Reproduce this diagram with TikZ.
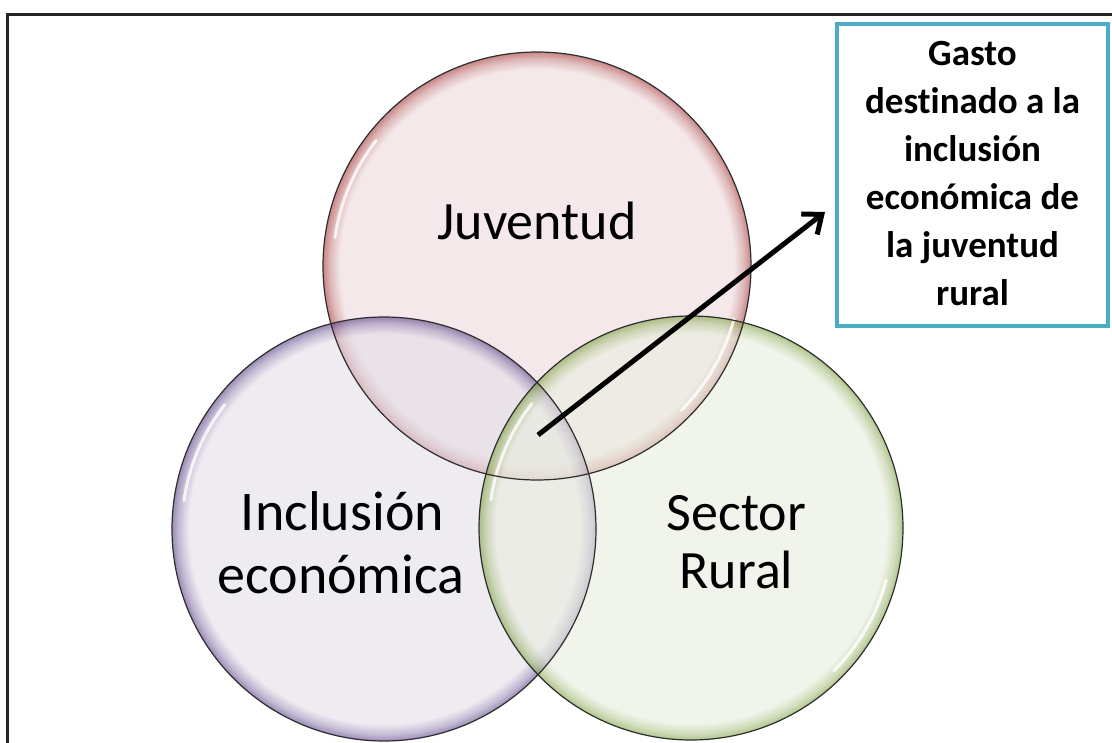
\documentclass[tikz,border=0pt]{standalone}
\usepackage{fontspec}
\setmainfont{Carlito}[Ligatures=NoCommon]
\usetikzlibrary{arrows.meta}
\definecolor{redin}{RGB}{237,218,220}
\definecolor{redrim}{RGB}{165,55,55}
\definecolor{purin}{RGB}{227,222,233}
\definecolor{purrim}{RGB}{90,65,135}
\definecolor{grnin}{RGB}{233,238,223}
\definecolor{grnrim}{RGB}{125,160,65}
\definecolor{boxteal}{RGB}{75,172,198}
\definecolor{edgegray}{RGB}{45,45,45}
\pgfdeclareradialshading{redball}{\pgfpoint{0bp}{0bp}}{color(0bp)=(redin); color(23bp)=(redin); color(24.2bp)=(redin!50!redrim); color(25bp)=(redrim); color(50bp)=(redrim)}
\pgfdeclareradialshading{purball}{\pgfpoint{0bp}{0bp}}{color(0bp)=(purin); color(23bp)=(purin); color(24.2bp)=(purin!50!purrim); color(25bp)=(purrim); color(50bp)=(purrim)}
\pgfdeclareradialshading{grnball}{\pgfpoint{0bp}{0bp}}{color(0bp)=(grnin); color(23bp)=(grnin); color(24.2bp)=(grnin!50!grnrim); color(25bp)=(grnrim); color(50bp)=(grnrim)}
\tikzset{
  ball/.style={shade, fill opacity=0.6},
  ballrim/.style={draw=edgegray, line width=1.2pt},
  glint/.style={draw=white, line width=3pt, opacity=0.8, line cap=round},
  lbl/.style={font=\fontsize{54}{60}\selectfont, inner sep=0pt, anchor=base},
  lblb/.style={font=\fontsize{56}{60}\selectfont, inner sep=0pt, anchor=base},
  frameline/.style={draw=black!85, line width=2.5pt},
}
\begin{document}
\begin{tikzpicture}[x=1pt,y=-1pt]
\useasboundingbox (0,0) rectangle (1112,743);
\fill[white] (0,0) rectangle (1112,743);
% frame
\path[frameline] (7.5,745) -- (7.5,14.5) -- (1114,14.5);
% centres
\coordinate (cJ) at (537,266);
\coordinate (cI) at (384,529);
\coordinate (cS) at (691,528);
% fills
\path[ball, shading=redball] (cJ) circle[radius=214];
\path[ball, shading=purball] (cI) circle[radius=212];
\path[ball, shading=grnball] (cS) circle[radius=212];
% glints
\foreach \c/\r in {cJ/214, cI/212, cS/212}{
  \path[glint] ([shift={(188:\r-10)}]\c) arc[start angle=188, end angle=218, radius=\r-10];
}
\foreach \c/\r in {cJ/214, cS/212}{
  \path[glint] ([shift={(15:\r-10)}]\c) arc[start angle=15, end angle=45, radius=\r-10];
}
% outlines
\path[ballrim] (cJ) circle[radius=214];
\path[ballrim] (cI) circle[radius=212];
\path[ballrim] (cS) circle[radius=212];
% labels
\node[lbl] (tJ) at (537,240) {Juventud};
\node[lblb] (tI1) at (342.5,530) {Inclusión};
\node[lblb] (tI2) at (341,593) {económica};
\node[lbl] (tS1) at (736.5,530) {Sector};
\node[lbl] (tS2) at (736.5,588) {Rural};
% box
\node[draw=boxteal, line width=4pt, minimum width=271pt, minimum height=302pt, inner sep=0pt] (gbox) at (972.5,175) {};
\node[font=\bfseries\fontsize{37}{48}\selectfont, align=center, inner sep=0pt] (gtext) at (972.5,174) {Gasto\\destinado a la\\inclusión\\económica de\\la juventud\\rural};
% arrow
\coordinate (astart) at (538,435);
\coordinate (aend) at (825,212);
\draw[line width=5pt, -{Straight Barb[length=16pt,width=26pt]}] (astart) -- (aend);
\end{tikzpicture}
\end{document}
